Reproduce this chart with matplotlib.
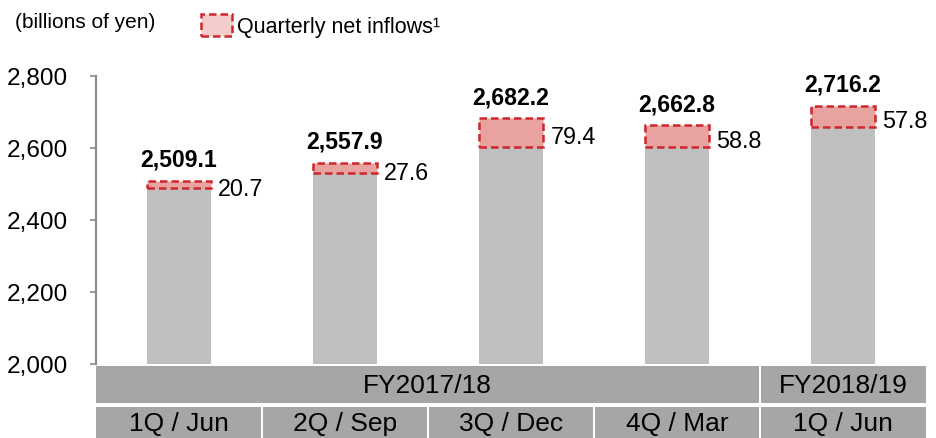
import matplotlib
matplotlib.use("Agg")
import matplotlib.pyplot as plt
from matplotlib.patches import Rectangle
import numpy as np

plt.rcParams['font.family'] = ['Liberation Sans', 'DejaVu Sans']

# ---- data ----
quarters = ["1Q / Jun", "2Q / Sep", "3Q / Dec", "4Q / Mar", "1Q / Jun"]
fiscal_years = ["FY2017/18", "FY2018/19"]
fy_spans = [4, 1]
totals = [2509.1, 2557.9, 2682.2, 2662.8, 2716.2]
inflows = [20.7, 27.6, 79.4, 58.8, 57.8]
yticks = [2000, 2200, 2400, 2600, 2800]
unit_label = "(billions of yen)"
legend_label = "Quarterly net inflows\u00b9"

W, H = 937, 439
fig = plt.figure(figsize=(W / 100, H / 100), dpi=100)

def fx(px):
    return px / W

def fy(py):
    return (H - py) / H

ax = fig.add_axes([fx(96), fy(365), fx(926) - fx(96), fy(77) - fy(365)])
x = np.arange(len(totals))
tot = np.array(totals)
inf = np.array(inflows)
base = tot - inf
ymin, ymax = yticks[0], yticks[-1]

bw = 0.39
gray = '#bfbfbf'
pink = '#e8a3a1'
red = '#d0262b'
ax.bar(x, base - ymin, bottom=ymin, width=bw, color=gray, edgecolor='none', zorder=2)
ax.bar(x, inf, bottom=base, width=bw, color=pink, edgecolor=red,
       linestyle=(0, (3, 1.6)), linewidth=1.8, zorder=3)

for xi, t, b, v in zip(x, tot, base, inf):
    ax.annotate(f"{t:,.1f}", (xi, t), xytext=(0, 11), textcoords='offset points',
                ha='center', va='baseline', fontsize=16.6, fontweight='bold',
                annotation_clip=False)
    ax.annotate(f"{v:.1f}", (xi + bw / 2, (t + b) / 2), xytext=(5, -3),
                textcoords='offset points', ha='left', va='center', fontsize=16.8,
                annotation_clip=False)

ax.set_xlim(-0.5, len(totals) - 0.5)
ax.set_ylim(ymin, ymax)
ax.set_yticks(yticks)
ax.set_yticklabels([f"{v:,}" for v in yticks])
ax.set_xticks([])
for s in ['top', 'right', 'bottom']:
    ax.spines[s].set_visible(False)
ax.spines['left'].set_color('#8c8c8c')
ax.spines['left'].set_linewidth(1.6)
ax.tick_params(axis='y', length=4, width=1.2, color='#8c8c8c', pad=16,
               labelsize=17.6, labelcolor='black')

# ---- category table ----
tax = fig.add_axes([fx(96), 0, fx(926) - fx(96), fy(365)])
tax.set_xlim(-0.5, len(totals) - 0.5)
tax.set_ylim(0, H - 365)
tax.axis('off')
cell = '#a6a6a6'
g = 0.009
r1_lo, r1_hi = H - 404, H - 367
r2_lo, r2_hi = -10, H - 408
start = -0.5
for i, (lab, span) in enumerate(zip(fiscal_years, fy_spans)):
    left = start + (g if i > 0 else 0)
    right = start + span - (g if i < len(fy_spans) - 1 else 0)
    tax.add_patch(Rectangle((left, r1_lo), right - left, r1_hi - r1_lo,
                            facecolor=cell, edgecolor='none', clip_on=False))
    tax.text((left + right) / 2, (r1_lo + r1_hi) / 2 - 1, lab, ha='center',
             va='center', fontsize=19)
    start += span
n = len(quarters)
for i, q in enumerate(quarters):
    left = i - 0.5 + (g if i > 0 else 0)
    right = i + 0.5 - (g if i < n - 1 else 0)
    tax.add_patch(Rectangle((left, r2_lo), right - left, r2_hi - r2_lo,
                            facecolor=cell, edgecolor='none', clip_on=False))
    tax.text(i, H - 424, q, ha='center', va='center', fontsize=19)

# ---- header / legend ----
fig.text(fx(15), fy(23), unit_label, ha='left', va='center', fontsize=15)
fig.patches.append(Rectangle((fx(201), fy(37)), fx(232) - fx(201), fy(15) - fy(37),
                             transform=fig.transFigure, facecolor='#f4cccc',
                             edgecolor=red, linestyle=(0, (3, 1.6)), linewidth=1.8))
fig.text(fx(237), fy(27), legend_label, ha='left', va='center', fontsize=15.5)

fig.savefig('out.png', dpi=100)
